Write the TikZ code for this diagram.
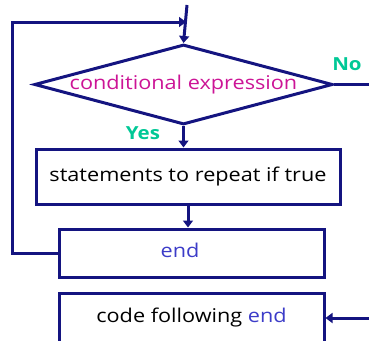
\documentclass[tikz,border=0pt]{standalone}
\usepackage{fontspec}
\setmainfont{Open Sans}[FakeStretch=1.14]
\usetikzlibrary{shapes.geometric,arrows.meta}
\definecolor{flowline}{RGB}{20,20,128}
\definecolor{condtext}{RGB}{204,20,150}
\definecolor{yesno}{RGB}{0,200,150}
\definecolor{kwblue}{RGB}{60,60,200}
\tikzset{
  flow/.style={draw=flowline, line width=3pt},
  arr/.style={flow, -{Triangle[length=7pt,width=10pt]}},
  boxfont/.style={font=\fontsize{19}{22}\selectfont},
  stepbox/.style={flow, rectangle, inner sep=0pt, boxfont},
  decision/.style={flow, diamond, shape aspect=3.73, inner sep=0pt,
    minimum width=295pt, minimum height=79pt, boxfont, text=condtext},
  answer/.style={font=\bfseries\fontsize{18}{21}\selectfont, text=yesno}
}
\begin{document}
\begin{tikzpicture}[x=1pt,y=-1pt]
  \useasboundingbox (0,0) rectangle (369,340);
  % loop test
  \node[decision] (cond) at (183.5,84.5) {conditional expression};
  % loop body
  \node[stepbox, minimum width=304pt, minimum height=55pt] (body) at (188,176.5)
    {statements to repeat if true};
  \node[stepbox, minimum width=265pt, minimum height=48pt] (endbox) at (191.5,253) {};
  \node[boxfont, text=kwblue, inner sep=0pt] (endtxt) at (180,250) {end};
  \node[stepbox, minimum width=265pt, minimum height=50pt] (after) at (191.5,318)
    {code following {\color{kwblue}end}};
  % labels
  \node[answer] (no) at (347,64) {No};
  \node[answer] (yes) at (143,133) {Yes};
  % connector ends
  \coordinate (entry) at (187,5);
  \coordinate (join) at (186,22);
  \coordinate (exitR) at (369,84.5);
  \coordinate (inR) at (369,318);
  \coordinate (loopL) at (12,253);
  % connectors
  \draw[arr] (entry) -- (cond.north);
  \draw[flow] (cond.east) -- (exitR);
  \draw[arr] (cond.south) -- (body.north -| cond.south);
  \draw[arr] (body.south) -- (endbox.north -| body.south);
  \draw[arr] (endbox.west) -- (loopL) |- (join);
  \draw[arr] (inR) -- (after.east);
\end{tikzpicture}
\end{document}
